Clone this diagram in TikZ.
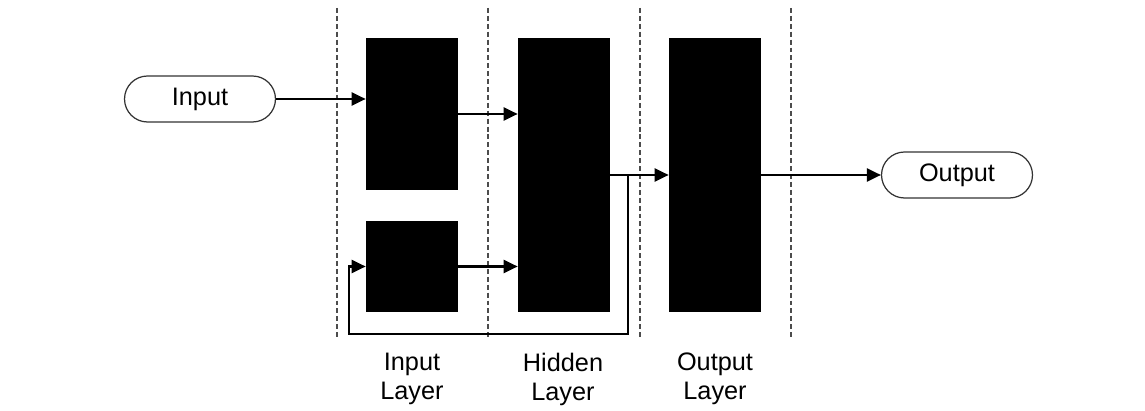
\documentclass[tikz,border=0pt]{standalone}
\usepackage{fontspec}
\setmainfont{Liberation Sans}
\usetikzlibrary{arrows.meta}

\begin{document}
\begin{tikzpicture}[x=0.02cm,y=0.02cm]
\tikzset{
  blk/.style={fill=black,draw=none,inner sep=0pt,minimum width=1.84cm},
  pill/.style={draw=black!80,line width=0.7pt,rounded corners=0.46cm,minimum width=3.02cm,minimum height=0.92cm,inner sep=0pt,font=\fontsize{14.4}{17}\selectfont},
  arr/.style={line width=1.3pt,-{Triangle[length=0.28cm,width=0.26cm]}},
  sep/.style={black!70,line width=0.6pt,dash pattern=on 2.8pt off 1.7pt},
  lbl/.style={align=center,inner sep=0pt,font=\fontsize{14.4}{16.5}\selectfont}
}
\useasboundingbox (0,0) rectangle (1145,-411);
% layer separators
\foreach \x in {337,488,640,791}
  \draw [sep] (\x,-8) -- (\x,-340);
% blocks
\node [blk,minimum height=3.04cm] (inTop) at (412,-114) {};
\node [blk,minimum height=1.82cm] (inBot) at (412,-266.5) {};
\node [blk,minimum height=5.48cm] (hid) at (564,-175) {};
\node [blk,minimum height=5.48cm] (out) at (715,-175) {};
% terminals
\node [pill] (inp) at (200,-99) {Input};
\node [pill] (outp) at (957,-175) {Output};
% connections
\draw [arr] (inp.east) -- (inp.east -| inTop.west);
\draw [arr] (inTop.east) -- (inTop.east -| hid.west);
\draw [arr] (inBot.east) -- (inBot.east -| hid.west);
\draw [arr] (hid.east) -- (out.west);
\draw [arr] (out.east) -- (outp.west);
% feedback loop
\coordinate (fb) at (628,-175);
\coordinate (fbl) at (349,-334);
\draw [arr] (fb) |- (fbl) |- (inBot.west);
% layer names
\node [lbl] (lIn) at (412,-379) {Input\\Layer};
\node [lbl] (lHid) at (563,-379) {Hidden\\Layer};
\node [lbl] (lOut) at (715,-379) {Output\\Layer};
\end{tikzpicture}
\end{document}
